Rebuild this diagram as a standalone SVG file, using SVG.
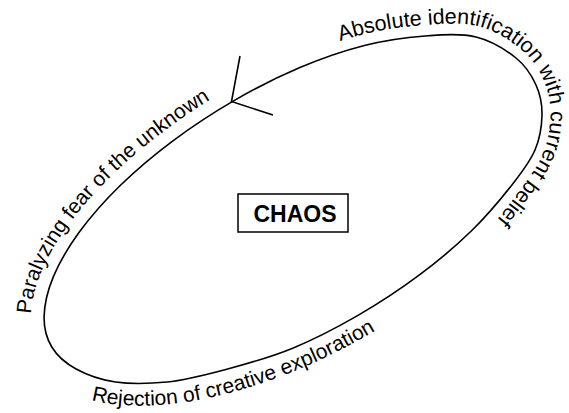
<svg xmlns="http://www.w3.org/2000/svg" xmlns:xlink="http://www.w3.org/1999/xlink" width="569" height="413" viewBox="0 0 569 413">
<style>
.loop{fill:none;stroke:#000;stroke-width:1.6}
.lbl{font-family:"Liberation Sans",Arial,sans-serif;font-size:21.5px;fill:#000}
.box{fill:#fff;stroke:#000;stroke-width:1.5}
.title{font-family:"Liberation Sans",Arial,sans-serif;font-size:23px;font-weight:bold;fill:#000}
</style>
<defs>
<path id="pTop" d="M295,57.7 C317.2,48.3 340.2,40.2 361.7,34.8 C383.2,29.4 404.7,26.4 424.2,25 C443.7,23.6 462.2,22.2 478.6,26.3 C495.1,30.4 510.5,40.6 521.5,49.8 C532.5,58.6 539,69.6 543.7,80.6 C548.5,91.6 550.7,103 550.5,115.2 C550.3,127.4 548,141.3 542.8,153.6 C537.6,166 530.5,176 519.8,190 C509.3,204 495.4,222.9 479.5,238.4"/>
<path id="pLeft" d="M31.1,316.1 C31.2,302.4 35.2,286.7 41.5,271.4 C47.8,256.1 57.4,240 69,224.1 C80.6,208.2 95.1,191.8 111.1,176.2 C127.1,160.6 145.7,144.9 165.1,130.4 C184.5,115.9 206,101.7 227.5,89.3"/>
<path id="pBot" d="M-273.2,64 A304,146 0 0 0 152,126.4"/>
</defs>
<g id="connectors">
<path class="loop" d="M44.1,316.4 C44.4,304.6 47.6,290.5 53.5,276.4 C59.4,262.3 68.4,247 79.5,231.8 C90.6,216.7 104.6,200.7 120.2,185.5 C135.8,170.3 153.9,155 172.9,140.8 C191.9,126.7 212.9,112.8 234,100.6 C255.1,88.4 277.6,77 299.3,67.8 C321,58.6 343.5,50.8 364.4,45.5 C385.4,40.2 406.4,37.4 425,36 C443.6,34.6 460.8,33.3 476,37 C491.2,40.7 506,50 516,58 C526,66 531.7,75.5 536,85 C540.3,94.5 542.2,104.7 542,115 C541.8,125.3 539.9,138.5 535,150 C530.1,161.5 523,170.8 512.5,184.2 C502,197.6 487.4,215.3 471.8,230.5 C456.2,245.7 438.1,261.1 419.1,275.2 C400.1,289.4 379.1,303.2 358,315.4 C336.9,327.6 314.4,339.3 292.7,348.2 C271,357.1 248.5,363.4 227.6,369 C206.7,374.6 185.8,380.3 167.1,382 C148.4,383.8 130.7,384.2 115.5,382 C100.3,379.8 86.7,374.8 76.1,369 C65.5,363.2 57.1,355.8 51.8,347 C46.5,338.2 43.8,328.2 44.1,316.4 Z"/>
<polyline class="loop" points="240,56 231.5,101.5 273,115"/>
</g>
<g id="label-top">
<text class="lbl"><textPath xlink:href="#pTop" href="#pTop" startOffset="48">Absolute identification with current belief</textPath></text>
</g>
<g id="label-left">
<text class="lbl" style="font-size:21px"><textPath xlink:href="#pLeft" href="#pLeft" startOffset="2">Paralyzing fear of the unknown</textPath></text>
</g>
<g id="label-bottom" transform="translate(296 208) rotate(-30)">
<text class="lbl" style="font-size:21px"><textPath xlink:href="#pBot" href="#pBot">Rejection of creative exploration</textPath></text>
</g>
<g id="chaos">
<rect class="box" x="238" y="194" width="110" height="38"/>
<text class="title" x="295" y="221.5" text-anchor="middle">CHAOS</text>
</g>
</svg>
